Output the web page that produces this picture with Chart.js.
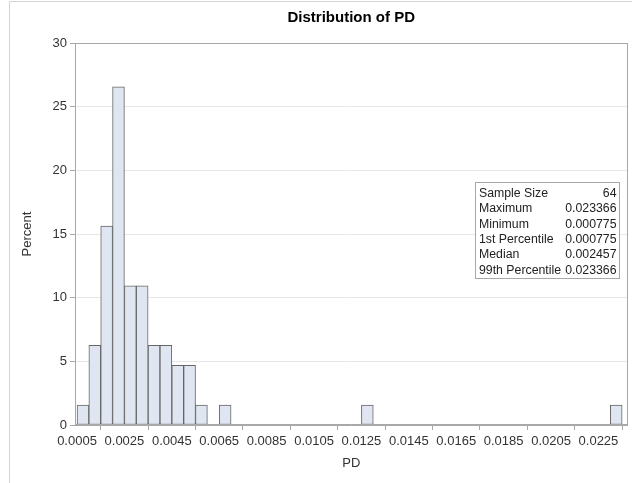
<!DOCTYPE html>
<html>
<head>
<meta charset="utf-8">
<script src="https://cdn.jsdelivr.net/npm/chart.js@4"></script>
<style>
  html, body { margin: 0; padding: 0; background: #ffffff; }
  #wrap { width: 641px; height: 483px; }
</style>
</head>
<body>
<div id="wrap"><canvas id="c" width="641" height="483"></canvas></div>
<script>
// Histogram of PD: bin midpoints (width 0.0005) and percent of observations
const binMid = [0.00075, 0.00125, 0.00175, 0.00225, 0.00275, 0.00325, 0.00375,
                0.00425, 0.00475, 0.00525, 0.00575, 0.00675, 0.01275, 0.02325];
const percent = [1.5625, 6.25, 15.625, 26.5625, 10.9375, 10.9375, 6.25,
                 6.25, 4.6875, 4.6875, 1.5625, 1.5625, 1.5625, 1.5625];
const xTicks = [0.0005, 0.0025, 0.0045, 0.0065, 0.0085, 0.0105, 0.0125,
                0.0145, 0.0165, 0.0185, 0.0205, 0.0225];
const yTicks = [0, 5, 10, 15, 20, 25, 30];

// Summary statistics inset
const statLabels = ["Sample Size", "Maximum", "Minimum", "1st Percentile", "Median", "99th Percentile"];
const statValues = ["64", "0.023366", "0.000775", "0.000775", "0.002457", "0.023366"];

const FONT = "'Liberation Sans', Arial, sans-serif";

const framePlugin = {
  id: 'frame',
  beforeDraw(chart) {
    const ctx = chart.ctx;
    ctx.save();
    // outer page border (left and top)
    ctx.strokeStyle = '#d4d4d4';
    ctx.lineWidth = 1;
    ctx.beginPath();
    ctx.moveTo(9.5, 483);
    ctx.lineTo(9.5, 1.5);
    ctx.lineTo(632, 1.5);
    ctx.stroke();
    // title
    ctx.fillStyle = '#000000';
    ctx.font = "bold 15px " + FONT;
    ctx.textAlign = 'center';
    ctx.textBaseline = 'middle';
    const a = chart.chartArea;
    ctx.fillText('Distribution of PD', (a.left + a.right) / 2, 18);
    ctx.restore();
  },
  afterDraw(chart) {
    const ctx = chart.ctx;
    const a = chart.chartArea;
    ctx.save();
    // plot frame
    ctx.strokeStyle = '#a8a8a8';
    ctx.lineWidth = 1;
    ctx.strokeRect(Math.round(a.left) + 0.5, Math.round(a.top) + 0.5,
                   Math.round(a.right - a.left) - 1, Math.round(a.bottom - a.top) - 1);
    // statistics table
    const bx = 475.5, by = 182.5, bw = 144, bh = 96;
    ctx.fillStyle = '#ffffff';
    ctx.fillRect(bx, by, bw, bh);
    ctx.strokeStyle = '#a8a8a8';
    ctx.strokeRect(bx, by, bw, bh);
    ctx.fillStyle = '#222222';
    ctx.font = "12.3px " + FONT;
    ctx.textBaseline = 'middle';
    for (let i = 0; i < statLabels.length; i++) {
      const y = 193.5 + i * 15.4;
      ctx.textAlign = 'left';
      ctx.fillText(statLabels[i], 479, y);
      ctx.textAlign = 'right';
      ctx.fillText(statValues[i], 616.5, y);
    }
    ctx.restore();
  }
};

new Chart(document.getElementById('c'), {
  type: 'bar',
  data: {
    datasets: [{
      data: binMid.map((x, i) => ({ x: x, y: percent[i] })),
      backgroundColor: '#e0e6f1',
      borderColor: '#666666',
      borderWidth: 1,
      borderSkipped: false,
      barPercentage: 1,
      categoryPercentage: 1,
      grouped: false
    }]
  },
  options: {
    responsive: false,
    animation: false,
    devicePixelRatio: 1,
    layout: { padding: { top: 43, right: 13.5, bottom: 0, left: 0 } },
    plugins: {
      legend: { display: false },
      tooltip: { enabled: false },
      title: { display: false }
    },
    scales: {
      x: {
        type: 'linear',
        min: 0.000415,
        max: 0.023726,
        offset: false,
        afterFit(scale) { scale.height = 58; },
        afterBuildTicks(scale) { scale.ticks = xTicks.map(v => ({ value: v })); },
        ticks: {
          autoSkip: false,
          maxRotation: 0,
          padding: 4,
          color: '#333333',
          font: { family: FONT, size: 13 },
          callback: v => Number(v).toFixed(4)
        },
        grid: {
          drawOnChartArea: false,
          drawTicks: true,
          tickLength: 5,
          color: '#a8a8a8'
        },
        border: { display: true, color: '#a8a8a8' },
        title: {
          display: true,
          text: 'PD',
          color: '#333333',
          font: { family: FONT, size: 13 },
          padding: { top: 0, bottom: 12 }
        }
      },
      y: {
        min: 0,
        max: 30,
        afterFit(scale) { scale.width = 75; },
        afterBuildTicks(scale) { scale.ticks = yTicks.map(v => ({ value: v })); },
        ticks: {
          padding: 3,
          color: '#333333',
          font: { family: FONT, size: 13 }
        },
        grid: {
          drawOnChartArea: true,
          drawTicks: true,
          tickLength: 5,
          color: '#e8e8e8',
          tickColor: '#a8a8a8'
        },
        border: { display: true, color: '#a8a8a8' },
        title: {
          display: true,
          text: 'Percent',
          color: '#333333',
          font: { family: FONT, size: 13 },
          padding: { top: 20, bottom: 0 }
        }
      }
    }
  },
  plugins: [framePlugin]
});
</script>
</body>
</html>
